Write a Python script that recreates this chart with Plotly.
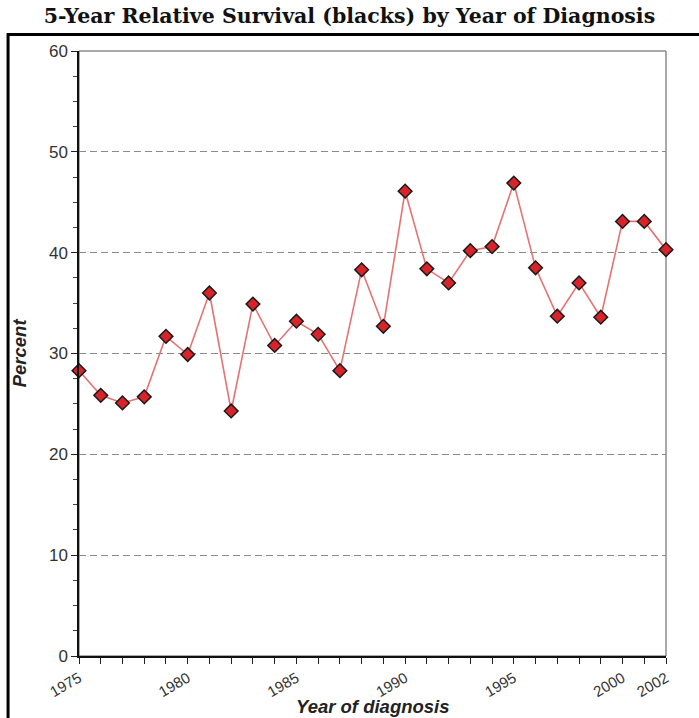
import plotly.graph_objects as go

years = list(range(1975, 2003))
survival = [28.3, 25.85, 25.1, 25.7, 31.7, 29.9, 36.0, 24.3, 34.9, 30.8,
            33.2, 31.9, 28.3, 38.3, 32.7, 46.1, 38.4, 37.0, 40.2, 40.6,
            46.9, 38.5, 33.7, 37.0, 33.6, 43.1, 43.1, 40.3]
labelled_years = [1975, 1980, 1985, 1990, 1995, 2000, 2002]
y_ticks = [0, 10, 20, 30, 40, 50, 60]

title_text = "5-Year Relative Survival (blacks) by Year of Diagnosis"
x_title = "Year of diagnosis"
y_title = "Percent"

W, H = 699, 718
L, R, T, B = 79, 666.5, 50.5, 656

fig = go.Figure()
fig.add_trace(go.Scatter(
    x=years, y=survival, mode="lines+markers",
    line=dict(color="#e57373", width=1.6),
    marker=dict(symbol="diamond", size=10.5, color="#d8232a",
                line=dict(color="#1a1a1a", width=1.5)),
    cliponaxis=False, showlegend=False, hoverinfo="skip",
))

def px_to_paper_x(px):
    return (px - L) / (R - L)

def px_to_paper_y(py):
    return (B - py) / (B - T)

shapes = [
    dict(type="rect", xref="paper", yref="paper", x0=0, x1=1, y0=0, y1=1,
         line=dict(color="#555555", width=1), layer="below"),
    dict(type="rect", xref="paper", yref="paper",
         x0=px_to_paper_x(8), x1=px_to_paper_x(760),
         y0=px_to_paper_y(800), y1=px_to_paper_y(34),
         line=dict(color="#000000", width=3)),
]

annotations = [
    dict(text=f"<b><i>{y_title}</i></b>", xref="paper", yref="paper",
         x=px_to_paper_x(19), y=px_to_paper_y(353), textangle=-90,
         showarrow=False, xanchor="center", yanchor="middle",
         font=dict(family="Liberation Sans", size=18.5, color="#222222")),
    dict(text=f"<b><i>{x_title}</i></b>", xref="paper", yref="paper",
         x=px_to_paper_x(373), y=px_to_paper_y(707),
         showarrow=False, xanchor="center", yanchor="middle",
         font=dict(family="Liberation Sans", size=18.5, color="#222222")),
]

fig.update_layout(
    width=W, height=H,
    margin=dict(l=L, r=W - R, t=T, b=H - B, pad=0),
    paper_bgcolor="white", plot_bgcolor="white",
    title=dict(text=f"<b>{title_text}</b>", x=0.5, xanchor="center",
               y=1 - 16 / H, yanchor="middle",
               font=dict(family="DejaVu Serif", size=20.5, color="#111111")),
    shapes=shapes, annotations=annotations,
    xaxis=dict(
        range=[1975, 2002], tickvals=years,
        ticktext=[str(y) if y in labelled_years else "" for y in years],
        tickangle=-30, ticks="outside", ticklen=6, tickcolor="#222",
        showline=True, linecolor="#111", linewidth=1.5,
        showgrid=False, zeroline=False,
        tickfont=dict(family="Liberation Sans", size=15, color="#333333"),
    ),
    yaxis=dict(
        range=[0, 60], tickvals=y_ticks,
        ticks="outside", ticklen=6, tickcolor="#222",
        minor=dict(dtick=2.5, ticks="outside", ticklen=4, tickcolor="#444",
                   showgrid=False),
        showline=True, linecolor="#111", linewidth=1.5,
        showgrid=True, gridcolor="#8a8a8a", gridwidth=1, griddash="7px,4px",
        zeroline=False,
        tickfont=dict(family="Liberation Sans", size=17, color="#333333"),
    ),
)

fig.write_html("out.html", config={"displayModeBar": False},
               post_script="document.body.style.margin='0';document.body.style.overflow='hidden';")
